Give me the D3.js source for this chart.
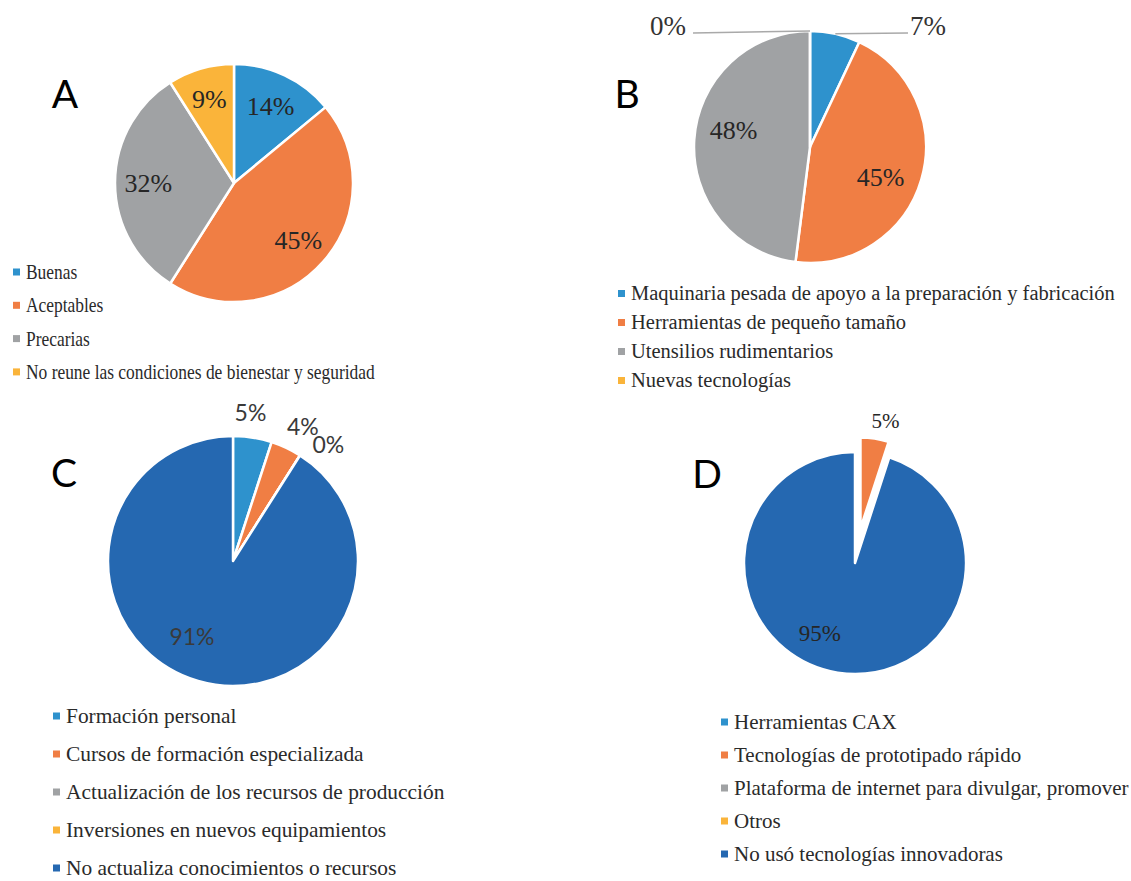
<!DOCTYPE html>
<html>
<head>
<meta charset="utf-8">
<script src="https://cdn.jsdelivr.net/npm/d3@7"></script>
<style>
  body { margin: 0; background: #fff; }
</style>
</head>
<body>
<svg id="chart" width="1131" height="881"></svg>
<script>
// --- data ---
var namesA = ["Buenas", "Aceptables", "Precarias", "No reune las condiciones de bienestar y seguridad"];
var valuesA = [14, 45, 32, 9];

var namesB = ["Maquinaria pesada de apoyo a la preparación y fabricación", "Herramientas de pequeño tamaño", "Utensilios rudimentarios", "Nuevas tecnologías"];
var valuesB = [7, 45, 48, 0];

var namesC = ["Formación personal", "Cursos de formación especializada", "Actualización de los recursos de producción", "Inversiones en nuevos equipamientos", "No actualiza conocimientos o recursos"];
var valuesC = [5, 4, 0, 0, 91];

var namesD = ["Herramientas CAX", "Tecnologías de prototipado rápido", "Plataforma de internet para divulgar, promover", "Otros", "No usó tecnologías innovadoras"];
var valuesD = [0, 5, 0, 0, 95];

var palette = ["#2e92cd", "#f07e44", "#a0a2a4", "#fab43a", "#2568b1"];

var serif = "'Liberation Serif', 'Times New Roman', serif";
var sans = "Lato, 'Open Sans', sans-serif";

var svg = d3.select("#chart");

// label spec: r = radius factor for centroid, nudge = [dx, dy], hide, lead = leader line label
var panels = [
  { letter: "A", lx: 65, ly: 108, cx: 234, cy: 183, r: 119, names: namesA, values: valuesA,
    font: serif, fsize: 26,
    labels: [{ r: 0.72 }, { r: 0.72 }, { r: 0.72 }, { r: 0.74 }],
    legend: { x: 13, y: 272, dy: 33.3, size: 21, sx: 0.83 } },
  { letter: "B", lx: 627, ly: 108, cx: 810, cy: 147, r: 116, names: namesB, values: valuesB,
    font: serif, fsize: 26,
    labels: [{ lead: [100, -112], anchor: "start", size: 27 }, { r: 0.66, nudge: [-3, 9] },
             { r: 0.66, nudge: [0, -12] }, { lead: [-124, -112], anchor: "end", size: 27 }],
    legend: { x: 618, y: 293.5, dy: 29, size: 20.5, sx: 1 } },
  { letter: "C", lx: 64, ly: 487, cx: 233, cy: 561, r: 125, names: namesC, values: valuesC,
    font: sans, fsize: 23,
    labels: [{ r: 1.2, nudge: [-6, 0] }, { r: 1.2, nudge: [6, 2] }, { r: 1.2, nudge: [15, 11] },
             { hide: true }, { r: 0.69, nudge: [-17, -7] }],
    legend: { x: 53, y: 716, dy: 38, size: 21.4, sx: 1 } },
  { letter: "D", lx: 707, ly: 488, cx: 855, cy: 563, r: 111, names: namesD, values: valuesD,
    font: serif, fsize: 23, explode: 1, explodeBy: 35, explodeR: 0.82,
    labels: [{ hide: true }, { r: 1.3, nudge: [8, 0], size: 21 }, { hide: true }, { hide: true },
             { r: 0.7, nudge: [-23, -7] }],
    legend: { x: 721, y: 722, dy: 33, size: 21, sx: 1 } }
];

var pie = d3.pie().sort(null).value(function (d) { return d; });

panels.forEach(function (p) {
  var g = svg.append("g").attr("transform", "translate(" + p.cx + "," + p.cy + ")");
  var arcs = pie(p.values);
  var arc = d3.arc().innerRadius(0).outerRadius(p.r);

  // slices
  g.selectAll("path.slice")
    .data(arcs)
    .enter()
    .append("path")
    .attr("class", "slice")
    .attr("d", function (d, i) {
      if (p.explode === i) {
        return d3.arc().innerRadius(0).outerRadius(p.r * p.explodeR)(d);
      }
      return arc(d);
    })
    .attr("transform", function (d, i) {
      if (p.explode !== i) return null;
      var m = (d.startAngle + d.endAngle) / 2;
      return "translate(" + (Math.sin(m) * p.explodeBy) + "," + (-Math.cos(m) * p.explodeBy) + ")";
    })
    .attr("fill", function (d, i) { return palette[i]; })
    .attr("stroke", "#fff")
    .attr("stroke-width", 2.5)
    .attr("stroke-linejoin", "round");

  // data labels
  arcs.forEach(function (d, i) {
    var spec = p.labels[i];
    if (spec.hide) return;
    var txt = Math.round(d.value) + "%";
    var m = (d.startAngle + d.endAngle) / 2;
    if (spec.lead) {
      var px = Math.sin(m) * p.r, py = -Math.cos(m) * p.r;
      var ex = spec.lead[0] + (spec.anchor === "start" ? -2 : 7);
      g.append("line")
        .attr("x1", px).attr("y1", py)
        .attr("x2", ex).attr("y2", spec.lead[1] - 2)
        .attr("stroke", "#a9a9a9")
        .attr("stroke-width", 1.5);
      g.append("text")
        .attr("x", spec.lead[0]).attr("y", spec.lead[1])
        .attr("text-anchor", spec.anchor)
        .style("font-family", p.font)
        .style("font-size", (spec.size || p.fsize) + "px")
        .attr("fill", "#333")
        .text(txt);
      return;
    }
    var la = d3.arc().innerRadius(p.r * spec.r).outerRadius(p.r * spec.r);
    var c = la.centroid(d);
    var n = spec.nudge || [0, 0];
    g.append("text")
      .attr("x", c[0] + n[0]).attr("y", c[1] + n[1])
      .attr("dy", "0.35em")
      .attr("text-anchor", "middle")
      .style("font-family", p.font)
      .style("font-size", (spec.size || p.fsize) + "px")
      .attr("fill", p.font === sans ? "#3a3a3a" : "#262626")
      .text(txt);
  });

  // panel letter
  svg.append("text")
    .attr("x", p.lx).attr("y", p.ly)
    .attr("text-anchor", "middle")
    .style("font-family", sans)
    .style("font-size", "39px")
    .attr("fill", "#000")
    .text(p.letter);

  // legend
  var lg = svg.append("g").attr("transform", "translate(" + p.legend.x + "," + p.legend.y + ")");
  var item = lg.selectAll("g.item")
    .data(p.names)
    .enter()
    .append("g")
    .attr("class", "item")
    .attr("transform", function (d, i) { return "translate(0," + (i * p.legend.dy) + ")"; });
  item.append("rect")
    .attr("x", 0).attr("y", -3.5)
    .attr("width", 7).attr("height", 7)
    .attr("fill", function (d, i) { return palette[i]; });
  item.append("text")
    .attr("transform", "translate(13,0) scale(" + p.legend.sx + ",1)")
    .attr("dy", "0.33em")
    .style("font-family", serif)
    .style("font-size", p.legend.size + "px")
    .attr("fill", "#2a2a2a")
    .text(function (d) { return d; });
});
</script>
</body>
</html>
